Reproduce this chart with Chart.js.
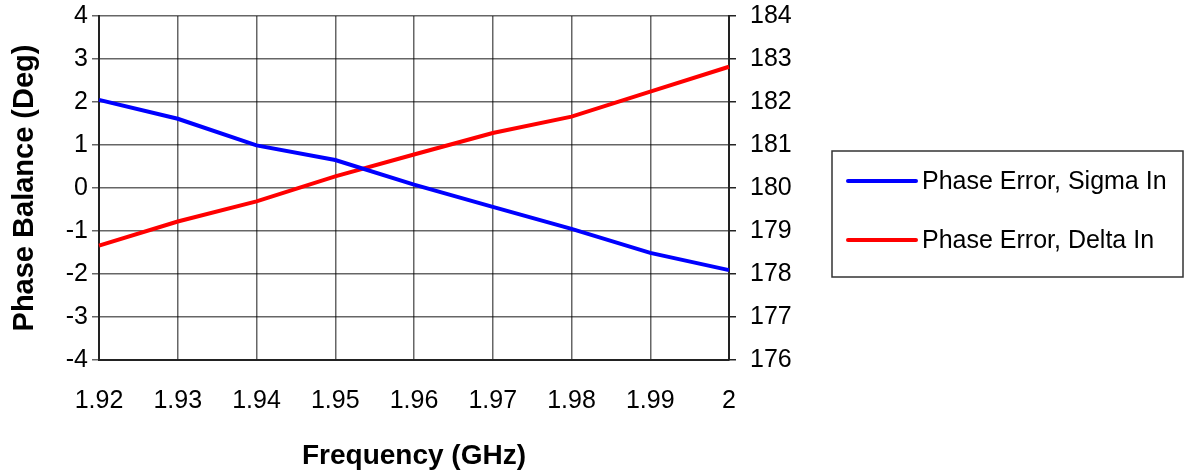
<!DOCTYPE html>
<html lang="en">
<head>
    <meta charset="UTF-8">
    <title>Phase Error</title>
    <script src="https://cdn.jsdelivr.net/npm/chart.js"></script>
    <style>
        html, body { margin: 0; padding: 0; background: #fff; }
        #wrap { width: 1187px; height: 473px; }
    </style>
</head>
<body>
    <div id="wrap"><canvas id="myChart" width="1187" height="473"></canvas></div>
    <script>
        // chart data
        const frequencies = ['1.92', '1.93', '1.94', '1.95', '1.96', '1.97', '1.98', '1.99', '2'];
        const sigmaIn = [2.05, 1.61, 0.99, 0.65, 0.08, -0.44, -0.95, -1.51, -1.91];
        const deltaIn = [178.66, 179.22, 179.69, 180.27, 180.78, 181.28, 181.66, 182.24, 182.82];
        const seriesNames = ['Phase Error, Sigma In', 'Phase Error, Delta In'];
        const leftTicks = [-4, 4];
        const rightTicks = [176, 184];

        const font = "'Liberation Sans', Arial, sans-serif";

        // legend box drawn by hand (Chart.js has no bordered legend)
        const boxLegend = {
            id: 'boxLegend',
            afterDraw(chart) {
                const c = chart.ctx;
                c.save();
                c.strokeStyle = '#333';
                c.lineWidth = 1.5;
                c.strokeRect(832, 151, 351, 126);
                c.font = '25px ' + font;
                c.textBaseline = 'middle';
                c.fillStyle = '#000';
                chart.data.datasets.forEach(function(ds, i) {
                    const y = 181 + i * 59;
                    c.strokeStyle = ds.borderColor;
                    c.lineWidth = 4;
                    c.lineCap = 'round';
                    c.beginPath();
                    c.moveTo(848, y);
                    c.lineTo(916, y);
                    c.stroke();
                    c.fillText(ds.label, 922, y + 1);
                });
                c.restore();
            }
        };

        // fixed plot box: drop the extra room Chart.js keeps for end labels
        function fixVertical(width) {
            return function(scale) {
                scale.width = width;
                scale.paddingTop = 0;
                scale.paddingBottom = 0;
            };
        }

        const ctx = document.getElementById('myChart').getContext('2d');
        const myChart = new Chart(ctx, {
            type: 'line',
            data: {
                labels: frequencies,
                datasets: [{
                    label: seriesNames[0],
                    data: sigmaIn,
                    borderColor: '#0000ff',
                    borderWidth: 4,
                    pointRadius: 0,
                    tension: 0,
                    yAxisID: 'y'
                }, {
                    label: seriesNames[1],
                    data: deltaIn,
                    borderColor: '#ff0000',
                    borderWidth: 4,
                    pointRadius: 0,
                    tension: 0,
                    yAxisID: 'y1'
                }]
            },
            options: {
                responsive: false,
                animation: false,
                layout: { padding: { top: 16, left: 0, right: 0, bottom: 0 } },
                plugins: {
                    legend: { display: false },
                    tooltip: { enabled: false }
                },
                scales: {
                    x: {
                        grid: { color: 'rgba(0,0,0,0.6)', lineWidth: 1.5, drawTicks: false },
                        border: { color: '#222', width: 2 },
                        ticks: { color: '#000', font: { family: font, size: 25 }, padding: 26, maxRotation: 0 },
                        title: {
                            display: true, text: 'Frequency (GHz)', color: '#000',
                            font: { family: font, size: 28, weight: 'bold' }, padding: 0
                        },
                        afterFit(scale) {
                            scale.height = 113;
                            scale.paddingLeft = 0;
                            scale.paddingRight = 0;
                        }
                    },
                    y: {
                        position: 'left',
                        min: leftTicks[0], max: leftTicks[1],
                        grid: { color: 'rgba(0,0,0,0.6)', lineWidth: 1.5, tickLength: 7 },
                        border: { color: '#222', width: 2 },
                        ticks: { stepSize: 1, color: '#000', font: { family: font, size: 25 }, padding: 4 },
                        title: {
                            display: true, text: 'Phase Balance (Deg)', color: '#000',
                            font: { family: font, size: 29, weight: 'bold' }, padding: 8
                        },
                        afterFit: fixVertical(99)
                    },
                    y1: {
                        position: 'right',
                        min: rightTicks[0], max: rightTicks[1],
                        grid: { drawOnChartArea: false, color: '#222', lineWidth: 1.5, tickLength: 7 },
                        border: { color: '#222', width: 2 },
                        ticks: { stepSize: 1, color: '#000', font: { family: font, size: 25 }, padding: 14 },
                        afterFit: fixVertical(458)
                    }
                }
            },
            plugins: [boxLegend]
        });
    </script>
</body>
</html>
